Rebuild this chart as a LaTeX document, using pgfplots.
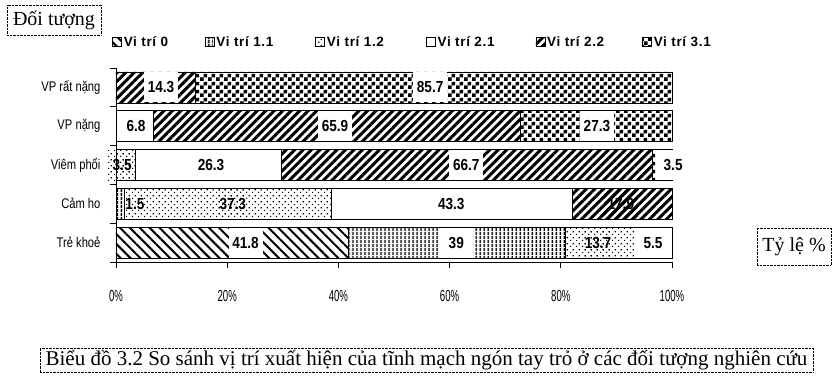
\documentclass[border=0pt]{standalone}
\usepackage{fontspec}
\setmainfont{Liberation Serif}
\newfontfamily\nsans[FakeStretch=0.8]{Liberation Sans}
\newfontfamily\tsans[FakeStretch=0.6]{Liberation Sans}
\newfontfamily\numsans[FakeStretch=0.85]{Liberation Sans}
\newfontfamily\lsans[LetterSpace=5]{Liberation Sans}
\usepackage{pgfplots}
\pgfplotsset{compat=1.18}
\usetikzlibrary{patterns,patterns.meta}
\pgfdeclarepatternformonly{sparsedots}{\pgfpointorigin}{\pgfqpoint{6pt}{6pt}}{\pgfqpoint{6pt}{6pt}}{%
  \pgfpathrectangle{\pgfqpoint{0pt}{0pt}}{\pgfqpoint{1.4pt}{1.4pt}}%
  \pgfpathrectangle{\pgfqpoint{3pt}{3pt}}{\pgfqpoint{1.4pt}{1.4pt}}%
  \pgfusepath{fill}}
\pgfdeclarepatternformonly{checker}{\pgfpointorigin}{\pgfqpoint{8pt}{8pt}}{\pgfqpoint{8pt}{8pt}}{%
  \pgfpathrectangle{\pgfqpoint{0pt}{0pt}}{\pgfqpoint{4pt}{4pt}}%
  \pgfpathrectangle{\pgfqpoint{4pt}{4pt}}{\pgfqpoint{4pt}{4pt}}%
  \pgfusepath{fill}}
\tikzset{
  p0/.style={pattern={Lines[angle=-45,distance=7pt,line width=2pt]}},
  p11/.style={pattern={Lines[angle=90,distance=4pt,line width=2pt]}},
  p12/.style={pattern=sparsedots},
  p21/.style={fill=white},
  p22/.style={pattern={Lines[angle=45,distance=6pt,line width=3pt]}},
  p31/.style={pattern=checker},
}
\begin{document}
\begin{tikzpicture}
\path[use as bounding box] (0,0) rectangle (836pt,-385pt);
\begin{axis}[
  at={(116pt,-262pt)}, anchor=south west,
  scale only axis, width=556pt, height=194pt,
  xbar stacked, bar width=31pt,
  xmin=0, xmax=100, ymin=-0.5, ymax=4.5,
  axis lines*=left,
  axis line style={line width=0.8pt},
  tick align=outside, major tick length=6pt,
  tick style={black, line width=0.8pt},
  xtick={0,20,40,60,80,100},
  xticklabels={0\%,20\%,40\%,60\%,80\%,100\%},
  xticklabel style={font=\tsans\fontsize{16}{18}\selectfont, yshift=-19pt},
  ytick={-0.5,0.5,1.5,2.5,3.5,4.5},
  yticklabels={Trẻ khoẻ,Cảm ho,Viêm phổi,VP nặng,VP rất nặng},
  y tick label as interval,
  yticklabel style={font=\nsans\fontsize{14}{16}\selectfont, xshift=-6pt},
  legend columns=6,
  legend style={at={(0,1)}, anchor=south west, xshift=-4pt, yshift=18pt, draw=none,
    font=\lsans\bfseries\fontsize{13.5}{15}\selectfont, inner sep=0pt,
    /tikz/every even column/.style={column sep=3pt}},
  legend image code/.code={\draw[#1, line width=0.6pt] (0pt,-4.5pt) rectangle (9pt,4.5pt);},
  clip=false,
]
\addplot[draw=black, line width=0.8pt, p0]  coordinates {(41.8,0) (0,1) (0,2) (0,3) (0,4)};
\addlegendentry{\makebox[76pt][l]{Vi trí 0}}
\addplot[draw=black, line width=0.8pt, p11] coordinates {(39,0) (1.5,1) (0,2) (0,3) (0,4)};
\addlegendentry{\makebox[94pt][l]{Vi trí 1.1}}
\addplot[draw=black, line width=0.8pt, p12] coordinates {(13.7,0) (37.3,1) (3.5,2) (0,3) (0,4)};
\addlegendentry{\makebox[94pt][l]{Vi trí 1.2}}
\addplot[draw=black, line width=0.8pt, p21] coordinates {(5.5,0) (43.3,1) (26.3,2) (6.8,3) (0,4)};
\addlegendentry{\makebox[93pt][l]{Vi trí 2.1}}
\addplot[draw=black, line width=0.8pt, p22] coordinates {(0,0) (17.9,1) (66.7,2) (65.9,3) (14.3,4)};
\addlegendentry{\makebox[90pt][l]{Vi trí 2.2}}
\addplot[draw=black, line width=0.8pt, p31] coordinates {(0,0) (0,1) (3.5,2) (27.3,3) (85.7,4)};
\addlegendentry{Vi trí 3.1}
\end{axis}
\begin{axis}[
  at={(116pt,-262pt)}, anchor=south west,
  scale only axis, width=556pt, height=194pt,
  xmin=0, xmax=100, ymin=-0.5, ymax=4.5,
  hide axis, clip=false,
  lab/.style={only marks, mark=none, nodes near coords, point meta=explicit symbolic,
    every node near coord/.append style={anchor=center, font=\numsans\bfseries\fontsize{16}{17}\selectfont,
      inner sep=0pt, minimum width=34pt, minimum height=30pt, #1}},
]
\addplot[lab={fill=white}] coordinates {
  (8.1,4) [14.3] (56.5,4) [85.7]
  (3.6,3) [6.8] (39.4,3) [65.9] (86.5,3) [27.3]
  (17.1,2) [26.3] (63.0,2) [66.7] (100.2,2) [3.5]
  (60.3,1) [43.3]
  (23.3,0) [41.8] (61.2,0) [39] (96.6,0) [5.5]
};
\addplot[lab={pattern=sparsedots, minimum width=30pt}] coordinates {
  (1.1,2) [3.5] (21.0,1) [37.3] (86.7,0) [13.7]
};
\addplot[lab={}] coordinates {(3.4,1) [1.5]};
\addplot[lab={pattern={Lines[angle=45,distance=6pt,line width=3pt]}}] coordinates {(90.8,1) [17.9]};
\end{axis}
\node[draw, densely dotted, minimum width=94pt, minimum height=30pt, inner sep=0pt,
  font=\fontsize{20}{22}\selectfont] at (54pt,-20pt) {Đối tượng};
\node[draw, densely dotted, minimum width=74pt, minimum height=37pt, inner sep=0pt,
  font=\fontsize{20}{22}\selectfont] at (794pt,-246.5pt) {Tỷ lệ \%};
\node[draw, densely dotted, minimum width=773pt, minimum height=24pt, inner sep=0pt,
  font=\fontsize{21}{22}\selectfont] at (426.5pt,-360pt) {Biểu đồ 3.2 So sánh vị trí xuất hiện của tĩnh mạch ngón tay trỏ ở các đối tượng nghiên cứu};
\end{tikzpicture}
\end{document}
